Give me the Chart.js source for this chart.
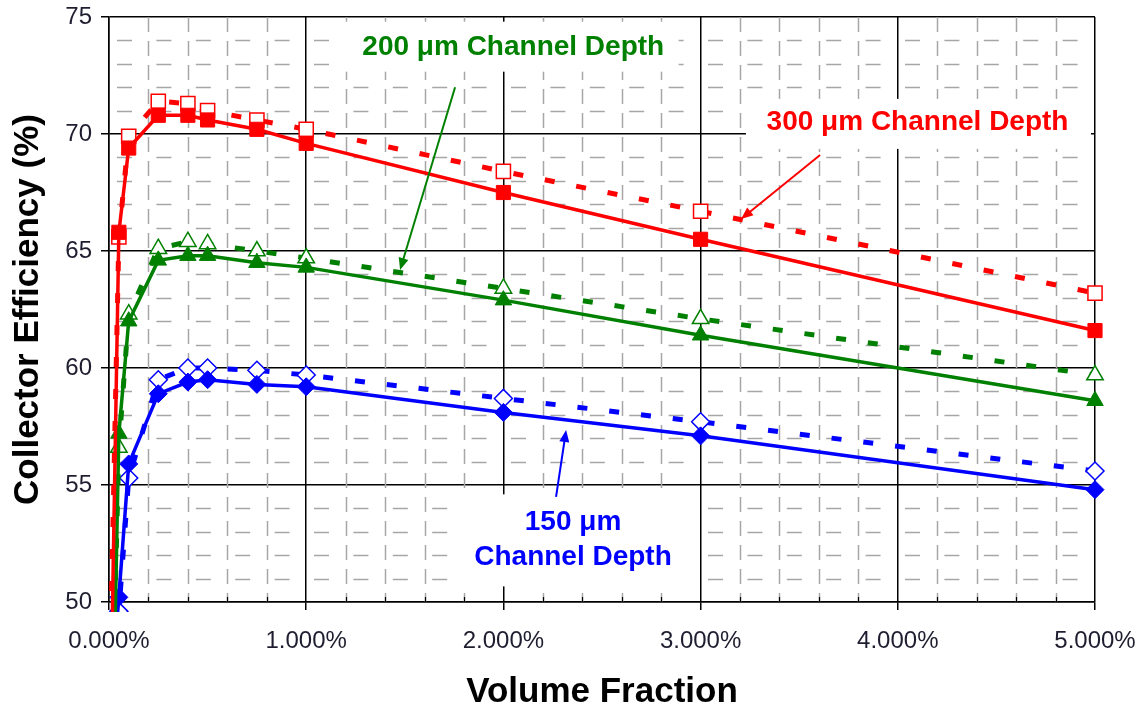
<!DOCTYPE html>
<html>
<head>
<meta charset="utf-8">
<title>Collector Efficiency vs Volume Fraction</title>
<script src="https://cdn.jsdelivr.net/npm/chart.js@4.4.1/dist/chart.umd.min.js"></script>
<style>
  html, body { margin: 0; padding: 0; background: #fff; }
  #wrap { width: 1144px; height: 713px; }
</style>
</head>
<body>
<div id="wrap"><canvas id="myChart" width="1144" height="713"></canvas></div>
<script>
const ctx = document.getElementById('myChart');

// volume fraction in percent
const volumeFraction = [0, 0.05, 0.1, 0.25, 0.4, 0.5, 0.75, 1, 2, 3, 5];

// collector efficiency (%) - solid lines / filled markers
const eff300 = [41, 65.8, 69.4, 70.8, 70.8, 70.6, 70.2, 69.6, 67.5, 65.5, 61.6];
const eff200 = [36, 57.2, 62.0, 64.6, 64.8, 64.8, 64.5, 64.3, 62.9, 61.4, 58.6];
const eff150 = [45, 50.2, 55.9, 58.9, 59.4, 59.5, 59.3, 59.2, 58.1, 57.1, 54.8];

// dashed lines / open markers
const eff300b = [45, 65.6, 69.9, 71.4, 71.3, 71.0, 70.6, 70.2, 68.4, 66.7, 63.2];
const eff200b = [40, 56.6, 62.3, 65.1, 65.4, 65.3, 65.0, 64.7, 63.4, 62.1, 59.7];
const eff150b = [45, 49.6, 55.3, 59.5, 60.0, 60.0, 59.9, 59.7, 58.7, 57.7, 55.6];

const xTicks = [0, 1, 2, 3, 4, 5];
const yTicks = [50, 55, 60, 65, 70, 75];

const label300 = ['300 \u03bcm Channel Depth'];
const label200 = ['200 \u03bcm Channel Depth'];
const label150 = ['150 \u03bcm', 'Channel Depth'];

const RED = '#ff0000', GREEN = '#008000', BLUE = '#0000ff';
const FONT = '"Liberation Sans", Arial, sans-serif';

function series(label, vals, color, shape, radius, open) {
    return {
        label: label,
        data: volumeFraction.map((v, i) => ({ x: v, y: vals[i] })),
        borderColor: color,
        borderWidth: open ? 5 : 3.5,
        borderDash: open ? [10, 22] : [],
        pointStyle: shape,
        pointRadius: radius,
        pointBorderColor: color,
        pointBackgroundColor: open ? '#ffffff' : color,
        pointBorderWidth: open ? 1.5 : 1,
        tension: 0,
        clip: { left: 4, top: 4, right: 12, bottom: 10 }
    };
}

// dashed minor grid, white label boxes
const minorGrid = {
    id: 'minorGrid',
    beforeDatasetsDraw(chart) {
        const c = chart.ctx;
        const a = chart.chartArea;
        const xs = chart.scales.x, ys = chart.scales.y;
        c.save();
        c.strokeStyle = '#a6a6a6';
        c.lineWidth = 1.5;
        // vertical minor lines every 0.2 %
        c.setLineDash([15, 9]);
        for (let k = 1; k < 25; k++) {
            if (k % 5 === 0) continue;
            const px = Math.round(xs.getPixelForValue(k * 0.2)) + 0.5;
            c.beginPath();
            c.moveTo(px, a.top);
            c.lineTo(px, a.bottom);
            c.stroke();
        }
        // horizontal minor lines every 1 unit
        c.setLineDash([15, 24.4]);
        c.lineDashOffset = -8;
        for (let v = 51; v < 75; v++) {
            if (v % 5 === 0) continue;
            const py = Math.round(ys.getPixelForValue(v)) + 0.5;
            c.beginPath();
            c.moveTo(a.left, py);
            c.lineTo(a.right, py);
            c.stroke();
        }
        // small inside tick marks on the x axis
        c.setLineDash([]);
        c.strokeStyle = '#000';
        c.lineWidth = 1.2;
        for (let k = 1; k < 25; k++) {
            if (k % 5 === 0) continue;
            const px = Math.round(xs.getPixelForValue(k * 0.2)) + 0.5;
            c.beginPath();
            c.moveTo(px, a.bottom);
            c.lineTo(px, a.bottom - 5);
            c.stroke();
        }
        c.restore();

        // white boxes behind the annotations
        c.save();
        c.fillStyle = '#ffffff';
        c.fillRect(xs.getPixelForValue(1.19), ys.getPixelForValue(74.8), 335, 50);
        c.fillRect(xs.getPixelForValue(3.23), ys.getPixelForValue(71.5), 345, 50);
        c.fillRect(xs.getPixelForValue(1.72), ys.getPixelForValue(54.6), 242, 92);
        c.restore();
    },
    afterDatasetsDraw(chart) {
        const c = chart.ctx;
        const xs = chart.scales.x, ys = chart.scales.y;
        const P = (x, y) => [xs.getPixelForValue(x), ys.getPixelForValue(y)];

        function arrow(from, to, color) {
            const [x1, y1] = P(from[0], from[1]);
            const [x2, y2] = P(to[0], to[1]);
            const ang = Math.atan2(y2 - y1, x2 - x1);
            const len = 12, w = 5;
            c.save();
            c.strokeStyle = color;
            c.fillStyle = color;
            c.lineWidth = 2;
            c.beginPath();
            c.moveTo(x1, y1);
            c.lineTo(x2 - Math.cos(ang) * len * 0.8, y2 - Math.sin(ang) * len * 0.8);
            c.stroke();
            c.beginPath();
            c.moveTo(x2, y2);
            c.lineTo(x2 - Math.cos(ang) * len - Math.sin(ang) * w, y2 - Math.sin(ang) * len + Math.cos(ang) * w);
            c.lineTo(x2 - Math.cos(ang) * len + Math.sin(ang) * w, y2 - Math.sin(ang) * len - Math.cos(ang) * w);
            c.closePath();
            c.fill();
            c.restore();
        }

        function text(lines, x, y, color, step) {
            const [px, py] = P(x, y);
            c.save();
            c.font = 'bold 28px ' + FONT;
            c.fillStyle = color;
            c.textAlign = 'center';
            c.textBaseline = 'middle';
            lines.forEach((t, i) => c.fillText(t, px, py + i * step));
            c.restore();
        }

        text(label200, 2.05, 73.72, GREEN, 0);
        text(label300, 4.10, 70.51, RED, 0);
        text(label150, 2.353, 53.42, BLUE, 35);

        arrow([1.755, 72.0], [1.476, 64.19], GREEN);
        arrow([3.606, 69.1], [3.205, 66.37], RED);
        arrow([2.267, 54.49], [2.318, 57.35], BLUE);
    }
};

new Chart(ctx, {
    type: 'line',
    data: {
        datasets: [
            series('300 solid', eff300, RED, 'rect', 10, false),
            series('200 solid', eff200, GREEN, 'triangle', 9.5, false),
            series('150 solid', eff150, BLUE, 'rectRot', 9, false),
            series('300 dashed', eff300b, RED, 'rect', 10, true),
            series('200 dashed', eff200b, GREEN, 'triangle', 9.5, true),
            series('150 dashed', eff150b, BLUE, 'rectRot', 9, true)
        ]
    },
    options: {
        responsive: false,
        animation: false,
        layout: { padding: { top: 17, right: 49, left: 0, bottom: 0 } },
        plugins: {
            legend: { display: false },
            tooltip: { enabled: false }
        },
        scales: {
            x: {
                type: 'linear',
                min: 0,
                max: 5,
                afterFit: s => {
                    s.height = 111;
                    s.paddingLeft = 0;
                    s.paddingRight = 0;
                },
                afterBuildTicks: s => { s.ticks = xTicks.map(v => ({ value: v })); },
                ticks: {
                    padding: 17,
                    color: '#1e1e30',
                    font: { family: FONT, size: 24 },
                    callback: v => v.toFixed(3) + '%'
                },
                grid: { color: '#000', lineWidth: 1.5, tickLength: 8 },
                border: { color: '#000', width: 1.5 },
                title: {
                    display: true,
                    text: 'Volume Fraction',
                    color: '#000',
                    font: { family: FONT, size: 35, weight: 'bold' },
                    padding: { top: 0, bottom: 0 }
                }
            },
            y: {
                min: 50,
                max: 75,
                afterFit: s => {
                    s.width = 109;
                    s.paddingTop = 0;
                    s.paddingBottom = 0;
                },
                afterBuildTicks: s => { s.ticks = yTicks.map(v => ({ value: v })); },
                ticks: {
                    padding: 9,
                    color: '#1e1e30',
                    font: { family: FONT, size: 24 }
                },
                grid: { color: '#000', lineWidth: 1.5, tickLength: 8 },
                border: { color: '#000', width: 1.5 },
                title: {
                    display: true,
                    text: 'Collector Efficiency (%)',
                    color: '#000',
                    font: { family: FONT, size: 35, weight: 'bold' },
                    padding: { top: 7, bottom: 0 }
                }
            }
        }
    },
    plugins: [minorGrid]
});
</script>
</body>
</html>
